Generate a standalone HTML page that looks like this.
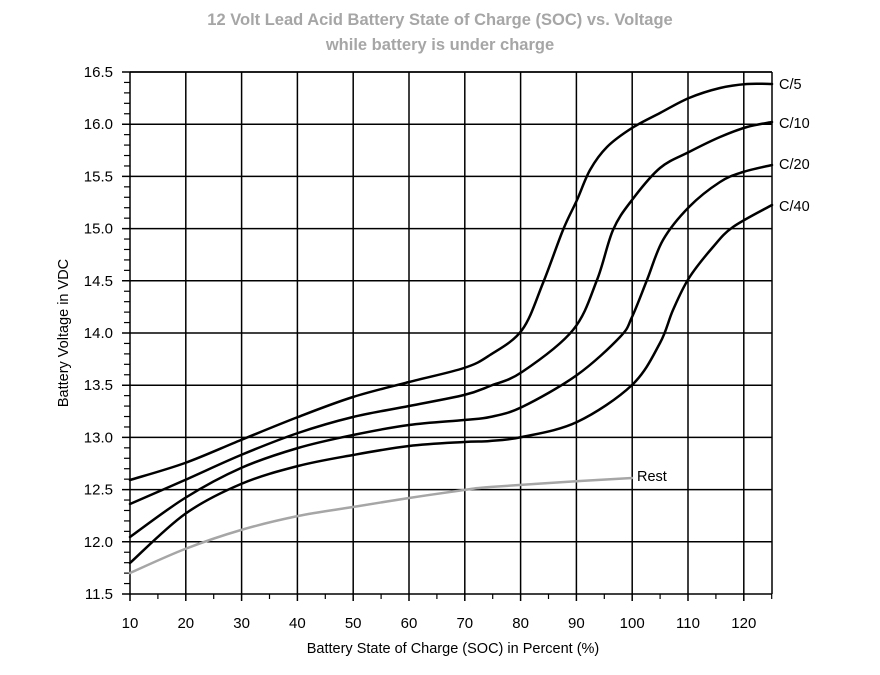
<!DOCTYPE html>
<html><head><meta charset="utf-8"><style>
body{margin:0;background:#fff;width:880px;height:670px;overflow:hidden}
svg text{font-family:"Liberation Sans",Arial,sans-serif}
</style></head><body>
<svg id="s" width="880" height="670" xmlns="http://www.w3.org/2000/svg">
<text x="440" y="25" text-anchor="middle" font-size="16.5" font-weight="bold" fill="#a6a6a6">12 Volt Lead Acid Battery State of Charge (SOC) vs. Voltage</text>
<text x="440" y="50" text-anchor="middle" font-size="16.5" font-weight="bold" fill="#a6a6a6">while battery is under charge</text>
<g id="grid" stroke="#000" stroke-width="1.5" fill="none"></g>
<g id="lab" font-size="15" fill="#000"></g>
<text x="453" y="653" text-anchor="middle" font-size="14.5">Battery State of Charge (SOC) in Percent (%)</text>
<text transform="translate(68,333) rotate(-90)" text-anchor="middle" font-size="14.5">Battery Voltage in VDC</text>
<g id="curves" fill="none" stroke-width="2.5" stroke-linejoin="round" stroke-linecap="round"></g>
<g font-size="14.5">
<text x="779" y="89">C/5</text>
<text x="779" y="128">C/10</text>
<text x="779" y="169">C/20</text>
<text x="779" y="211">C/40</text>
<text x="637" y="481">Rest</text>
</g>
</svg>
<script>
var ns="http://www.w3.org/2000/svg";
function el(p,t,a){var e=document.createElementNS(ns,t);for(var k in a)e.setAttribute(k,a[k]);p.appendChild(e);return e;}
var g=document.getElementById('grid'),lab=document.getElementById('lab');
var L=130,R=772,T=72,B=594;
function X(v){return 130+(v-10)*5.58;}
function Y(v){return 594-(v-11.5)*104.4;}
el(g,'line',{x1:L,y1:T,x2:R,y2:T});
el(g,'line',{x1:R,y1:T,x2:R,y2:B});
for(var v=10;v<=120;v+=10){var x=X(v);el(g,'line',{x1:x,y1:T,x2:x,y2:601});
 var t=el(lab,'text',{x:x,y:628,'text-anchor':'middle'});t.textContent=v;}
for(var v=15;v<=125;v+=10){var x=X(v);el(g,'line',{x1:x,y1:B,x2:x,y2:599,'stroke-width':1.2});}
for(var i=0;i<=10;i++){var v=11.5+i*0.5,y=Y(v);el(g,'line',{x1:122,y1:y,x2:R,y2:y});
 var t=el(lab,'text',{x:113,y:y+5,'text-anchor':'end'});t.textContent=v.toFixed(1);}
for(var i=0;i<=50;i++){if(i%5==0)continue;var y=Y(11.5+i*0.1);el(g,'line',{x1:124,y1:y,x2:L,y2:y,'stroke-width':1.2});}
function path(pts){var d='M'+pts[0][0]+','+pts[0][1];
 for(var i=0;i<pts.length-1;i++){var p0=pts[i-1]||pts[i],p1=pts[i],p2=pts[i+1],p3=pts[i+2]||p2;
 d+=' C'+(p1[0]+(p2[0]-p0[0])/6)+','+(p1[1]+(p2[1]-p0[1])/6)+' '+(p2[0]-(p3[0]-p1[0])/6)+','+(p2[1]-(p3[1]-p1[1])/6)+' '+p2[0]+','+p2[1];}
 return d;}
var c=document.getElementById('curves');
var S=[
[[130,480],[185,463],[241,440],[298,417],[353,397],[409,382],[464,368],[490,355],[522,330],[543,283],[563,230],[577,200],[590,170],[607,147],[632,128],[660,113],[689,98],[720,88],[747,84],[772,84]],
[[130,504],[185,480],[241,455],[298,433],[353,417],[409,406],[464,395],[490,386],[522,372],[573,330],[597,280],[613,230],[632,200],[660,168],[689,152],[720,137],[747,127],[772,122]],
[[130,537],[185,498],[241,468],[298,448],[353,435],[409,425],[464,420],[490,417],[522,407],[577,375],[620,337],[632,317],[647,280],[663,240],[689,207],[720,182],[743,172],[772,165]],
[[130,563],[185,514],[241,484],[298,466],[353,455],[409,446],[464,442],[490,441],[522,437],[577,422],[632,385],[660,343],[673,310],[689,278],[713,247],[733,227],[772,205]]
];
S.forEach(function(p){el(c,'path',{d:path(p),stroke:'#000'});});
el(c,'path',{d:path([[130,573],[185,549],[241,530],[298,516],[353,507],[409,498],[464,490],[490,487],[580,481],[632,478]]),stroke:'#a6a6a6'});
</script>
</body></html>
